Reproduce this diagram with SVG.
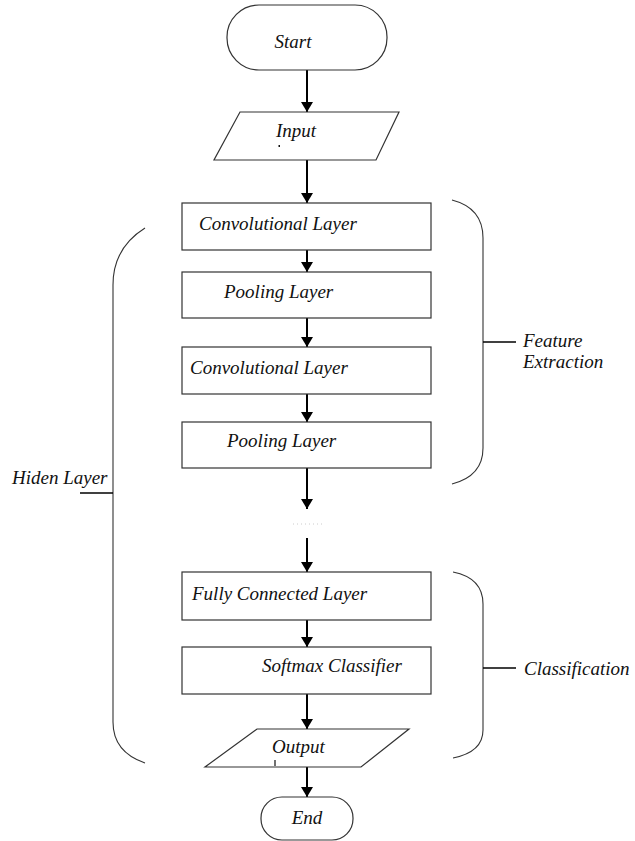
<svg xmlns="http://www.w3.org/2000/svg" width="635" height="841" viewBox="0 0 635 841">
<style>
  .box{fill:#fff;stroke:#333;stroke-width:1.2}
  .lbl{font-family:"Liberation Serif","Times New Roman",serif;font-style:italic;font-size:19px;fill:#111}
  .conn{stroke:#000;stroke-width:2;fill:none}
  .br{stroke:#333;stroke-width:1.1;fill:none}
  .tick{stroke:#000;stroke-width:1.5}
</style>
<defs>
  <marker id="ah" viewBox="0 0 10 12" refX="10" refY="6" markerWidth="10" markerHeight="12" markerUnits="userSpaceOnUse" orient="auto">
    <path d="M0,0 L10,6 L0,12 z" fill="#000"/>
  </marker>
</defs>
<rect width="635" height="841" fill="#fff"/>

<g id="connectors">
  <line class="conn" x1="307" y1="70" x2="307" y2="112" marker-end="url(#ah)"/>
  <line class="conn" x1="307" y1="160" x2="307" y2="203" marker-end="url(#ah)"/>
  <line class="conn" x1="307" y1="250" x2="307" y2="272" marker-end="url(#ah)"/>
  <line class="conn" x1="307" y1="318" x2="307" y2="347" marker-end="url(#ah)"/>
  <line class="conn" x1="307" y1="394" x2="307" y2="422" marker-end="url(#ah)"/>
  <line class="conn" x1="307" y1="468" x2="307" y2="509" marker-end="url(#ah)"/>
  <line x1="293" y1="524" x2="322" y2="524" stroke="#ccc" stroke-width="1" stroke-dasharray="1,3"/>
  <line class="conn" x1="307" y1="538" x2="307" y2="572" marker-end="url(#ah)"/>
  <line class="conn" x1="307" y1="620" x2="307" y2="647" marker-end="url(#ah)"/>
  <line class="conn" x1="307" y1="694" x2="307" y2="729" marker-end="url(#ah)"/>
  <line class="conn" x1="307" y1="767" x2="307" y2="797" marker-end="url(#ah)"/>
</g>

<g id="start">
  <rect class="box" x="227" y="5" width="160" height="65" rx="32" ry="32"/>
  <text class="lbl" x="293" y="48" text-anchor="middle">Start</text>
</g>

<g id="input">
  <polygon class="box" points="240,112 399,112 376,160 214,160"/>
  <text class="lbl" x="276" y="137">Input</text>
  <rect x="278.5" y="145" width="1.5" height="2" fill="#111"/>
</g>

<g id="conv1">
  <rect class="box" x="182" y="203" width="249" height="47"/>
  <text class="lbl" x="199" y="230">Convolutional Layer</text>
</g>

<g id="pool1">
  <rect class="box" x="182" y="272" width="249" height="46"/>
  <text class="lbl" x="224" y="298">Pooling Layer</text>
</g>

<g id="conv2">
  <rect class="box" x="182" y="347" width="249" height="47"/>
  <text class="lbl" x="190" y="374">Convolutional Layer</text>
</g>

<g id="pool2">
  <rect class="box" x="182" y="422" width="249" height="46"/>
  <text class="lbl" x="227" y="447">Pooling Layer</text>
</g>

<g id="fc">
  <rect class="box" x="182" y="572" width="249" height="48"/>
  <text class="lbl" x="192" y="600">Fully Connected Layer</text>
</g>

<g id="softmax">
  <rect class="box" x="182" y="647" width="249" height="47"/>
  <text class="lbl" x="262" y="672">Softmax Classifier</text>
</g>

<g id="output">
  <polygon class="box" points="257,729 409,729 361,767 205,767"/>
  <text class="lbl" x="272" y="753">Output</text>
  <line x1="275" y1="760" x2="275" y2="766" stroke="#111" stroke-width="1.2"/>
</g>

<g id="end">
  <rect class="box" x="261" y="797" width="92" height="43" rx="21" ry="21"/>
  <text class="lbl" x="307" y="824" text-anchor="middle">End</text>
</g>

<g id="feature-bracket">
  <path class="br" d="M452,200 Q483,208 483,238 L483,448 Q483,476 452,484"/>
  <line class="tick" x1="483" y1="342" x2="516" y2="342"/>
  <text class="lbl" x="523" y="347">Feature</text>
  <text class="lbl" x="523" y="368">Extraction</text>
</g>

<g id="hidden-bracket">
  <path class="br" d="M145,228 Q113,248 113,285 L113,722 Q113,752 145,763"/>
  <line class="tick" x1="80" y1="493" x2="113" y2="493"/>
  <text class="lbl" x="12" y="484">Hiden Layer</text>
</g>

<g id="classification-bracket">
  <path class="br" d="M453,572 Q483,578 483,604 L483,730 Q483,752 453,758"/>
  <line class="tick" x1="483" y1="668" x2="516" y2="668"/>
  <text class="lbl" x="524" y="675">Classification</text>
</g>
</svg>
